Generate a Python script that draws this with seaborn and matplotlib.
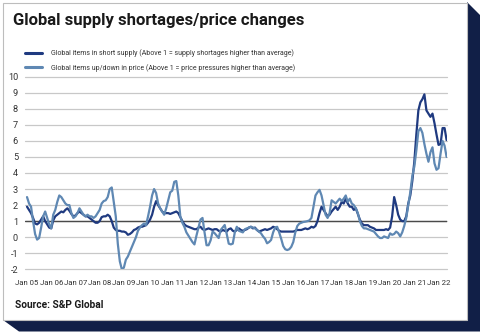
import matplotlib
matplotlib.use("Agg")
import matplotlib.pyplot as plt
from matplotlib import font_manager
from matplotlib.patches import Polygon, Rectangle
import numpy as np
import pandas as pd
import seaborn as sns

# Monthly index readings, Jan 2005 - May 2022
supply_vals = [
    1.9, 1.7, 1.5, 1.2, 0.85, 0.8, 0.9, 1.1, 1.3, 1.0, 0.8, 0.6,        # 2005
    0.55, 1.05, 1.3, 1.4, 1.5, 1.6, 1.55, 1.7, 1.8, 1.65, 1.45, 1.3,    # 2006
    1.35, 1.5, 1.6, 1.5, 1.4, 1.3, 1.3, 1.2, 1.1, 1.0, 0.9, 0.9,        # 2007
    1.0, 1.25, 1.3, 1.3, 1.4, 1.3, 1.0, 0.6, 0.45, 0.4, 0.4, 0.35,      # 2008
    0.35, 0.3, 0.15, 0.2, 0.3, 0.45, 0.5, 0.6, 0.65, 0.65, 0.7, 0.75,   # 2009
    0.9, 1.1, 1.4, 1.9, 2.25, 2.0, 1.8, 1.6, 1.5, 1.5, 1.5, 1.45,       # 2010
    1.5, 1.55, 1.6, 1.5, 1.25, 1.0, 0.8, 0.7, 0.65, 0.6, 0.55, 0.5,     # 2011
    0.5, 0.6, 0.65, 0.5, 0.45, 0.5, 0.55, 0.5, 0.45, 0.5, 0.5, 0.4,     # 2012
    0.35, 0.45, 0.4, 0.35, 0.5, 0.55, 0.4, 0.35, 0.45, 0.55, 0.45, 0.4, # 2013
    0.45, 0.5, 0.6, 0.65, 0.55, 0.6, 0.45, 0.35, 0.4, 0.45, 0.5, 0.45,  # 2014
    0.5, 0.55, 0.65, 0.6, 0.5, 0.4, 0.35, 0.35, 0.35, 0.35, 0.35, 0.35, # 2015
    0.35, 0.4, 0.45, 0.45, 0.45, 0.5, 0.55, 0.5, 0.55, 0.65, 0.6, 0.7,  # 2016
    1.0, 1.5, 1.9, 1.7, 1.5, 1.3, 1.4, 1.6, 1.75, 1.9, 1.7, 1.9,        # 2017
    2.2, 2.1, 2.4, 2.1, 1.9, 1.9, 1.7, 1.8, 1.45, 1.1, 0.85, 0.75,      # 2018
    0.75, 0.75, 0.65, 0.6, 0.55, 0.45, 0.45, 0.45, 0.45, 0.45, 0.5, 0.45,  # 2019
    0.6, 1.3, 2.5, 2.0, 1.4, 1.1, 1.0, 1.0, 1.3, 2.1, 2.6, 3.5,         # 2020
    4.7, 6.4, 7.9, 8.4, 8.6, 8.9, 7.9, 7.7, 7.5, 7.7, 7.1, 6.4,         # 2021
    5.75, 5.8, 6.8, 6.8, 6.05,                                          # 2022
]

price_vals = [
    2.5, 2.1, 1.9, 1.0, 0.2, -0.15, -0.05, 0.6, 1.3, 1.6, 1.2, 0.8,     # 2005
    0.55, 1.4, 1.7, 2.2, 2.6, 2.5, 2.3, 2.1, 2.0, 2.0, 1.5, 1.2,        # 2006
    1.3, 1.5, 1.8, 1.6, 1.4, 1.3, 1.4, 1.3, 1.3, 1.2, 1.3, 1.5,         # 2007
    1.7, 2.1, 2.25, 2.3, 2.5, 3.0, 3.1, 2.2, 1.3, -0.4, -1.5, -2.0,     # 2008
    -1.9, -1.4, -1.2, -0.9, -0.6, -0.3, 0.0, 0.4, 0.6, 0.75, 0.85, 0.75,  # 2009
    1.3, 1.9, 2.6, 3.0, 2.75, 2.1, 1.8, 1.6, 1.4, 1.8, 2.3, 2.8,        # 2010
    2.9, 3.45, 3.5, 2.6, 1.3, 0.9, 0.65, 0.3, 0.1, -0.1, -0.3, -0.45,   # 2011
    0.1, 0.6, 1.1, 1.2, 0.3, -0.5, -0.5, -0.2, 0.35, 0.25, 0.1, -0.05,  # 2012
    0.45, 0.6, 0.76, 0.2, -0.4, -0.45, -0.4, 0.3, 0.65, 0.4, 0.35, 0.3, # 2013
    0.5, 0.55, 0.6, 0.65, 0.6, 0.55, 0.45, 0.35, 0.24, 0.05, -0.1, -0.38,  # 2014
    -0.3, -0.17, 0.3, 0.6, 0.65, 0.3, -0.1, -0.55, -0.75, -0.8, -0.75, -0.6,  # 2015
    -0.3, 0.3, 0.7, 0.85, 0.9, 0.95, 0.97, 1.0, 1.05, 1.2, 1.9, 2.6,    # 2016
    2.8, 2.95, 2.6, 2.0, 1.4, 1.2, 1.5, 2.3, 2.2, 2.1, 2.25, 2.4,       # 2017
    2.25, 2.4, 2.6, 2.2, 2.4, 2.1, 2.0, 1.8, 1.5, 1.0, 0.7, 0.55,       # 2018
    0.55, 0.5, 0.45, 0.4, 0.35, 0.2, 0.05, -0.05, -0.05, 0.05, 0.0, -0.05,  # 2019
    0.24, 0.15, 0.2, 0.35, 0.25, 0.05, 0.3, 0.7, 1.2, 2.0, 2.8, 3.8,    # 2020
    4.4, 5.4, 6.6, 6.8, 6.5, 5.8, 5.2, 4.7, 5.3, 5.6, 4.6, 4.2,         # 2021
    4.3, 5.2, 6.0, 5.7, 5.0,                                            # 2022
]

series_names = [
    "Global items in short supply (Above 1 = supply shortages higher than average)",
    "Global items up/down in price (Above 1 = price pressures higher than average)",
]
series_colors = ["#1f3a80", "#5f88b3"]

tick_labels = ["Jan 05", "Jan 06", "Jan 07", "Jan 08", "Jan 09", "Jan 10",
               "Jan 11", "Jan 12", "Jan 13", "Jan 14", "Jan 15", "Jan 16",
               "Jan 17", "Jan 18", "Jan 19", "Jan 20", "Jan 21", "Jan 22"]
y_ticks = list(range(-2, 11))

title_text = "Global supply shortages/price changes"
source_text = "Source: S&P Global"

installed = {f.name for f in font_manager.fontManager.ttflist}
base_font = "Roboto" if "Roboto" in installed else "DejaVu Sans"

sns.set_style("white")
plt.rcParams["font.family"] = [base_font, "DejaVu Sans"]

W, H = 480, 334
fig = plt.figure(figsize=(W / 100, H / 100), dpi=100)
fig.patch.set_facecolor("white")


def fx(x):
    return x / W


def fy(y):
    return 1 - y / H


# card with a dark offset shadow on the right and bottom
shadow = Polygon(
    [(fx(467), fy(2)), (fx(480), fy(15)), (fx(480), fy(331.5)),
     (fx(19), fy(331.5)), (fx(3), fy(320)), (fx(467), fy(320))],
    closed=True, transform=fig.transFigure, facecolor="#111f47",
    edgecolor="none", zorder=-3)
fig.add_artist(shadow)
card = Rectangle((fx(3), fy(320)), (467 - 3) / W, (320 - 3) / H,
                 transform=fig.transFigure, facecolor="white",
                 edgecolor="#bdbdbd", lw=0.8, zorder=-2)
fig.add_artist(card)

ax_left, ax_right, ax_top, ax_bottom = 25, 447, 76.7, 269.3
ax = fig.add_axes([fx(ax_left), fy(ax_bottom), (ax_right - ax_left) / W,
                   (ax_bottom - ax_top) / H])
ax.set_facecolor("none")

n = len(supply_vals)
months = np.arange(n)
df = pd.DataFrame({
    "month": np.concatenate([months, months]),
    "value": supply_vals + price_vals,
    "series": [series_names[0]] * n + [series_names[1]] * n,
})

sns.lineplot(data=df, x="month", y="value", hue="series",
             hue_order=series_names, palette=series_colors,
             linewidth=1.6, ax=ax, zorder=3)

ax.set_ylim(-2, 10)
ax.set_xlim(-1, 208.2)
ax.set_yticks(y_ticks)
ax.set_yticklabels([str(v) for v in y_ticks])
ax.set_xticks(np.arange(len(tick_labels)) * 12)
ax.set_xticklabels(tick_labels)
ax.set_xlabel("")
ax.set_ylabel("")
for s in ax.spines.values():
    s.set_visible(False)
ax.grid(axis="y", color="#c8c8c8", lw=0.9)
ax.grid(axis="x", visible=False)
for gl in ax.get_ygridlines():
    gl.set_clip_on(False)
ax.axhline(1, color="#4a4a4a", lw=1.0, zorder=2)
ax.tick_params(axis="both", length=0, labelcolor="#333333")
ax.tick_params(axis="y", pad=5, labelsize=6.6)
ax.tick_params(axis="x", pad=7.5, labelsize=5.6)

sns.move_legend(ax, "upper left", bbox_to_anchor=(fx(25), fy(49)),
                bbox_transform=fig.transFigure, frameon=False, title=None,
                fontsize=5.0, handlelength=2.5, handletextpad=1.3,
                labelspacing=1.0, borderpad=0, borderaxespad=0)
leg = ax.get_legend()
for line in leg.get_lines():
    line.set_linewidth(2.2)
for t in leg.get_texts():
    t.set_color("#333333")

fig.text(fx(13), fy(21), title_text, fontsize=12, fontweight="bold",
         va="center", ha="left", color="#1a1a1a")
fig.text(fx(15), fy(305), source_text, fontsize=7.3, fontweight="bold",
         va="center", ha="left", color="#1a1a1a")

fig.savefig("out.png", dpi=100)
